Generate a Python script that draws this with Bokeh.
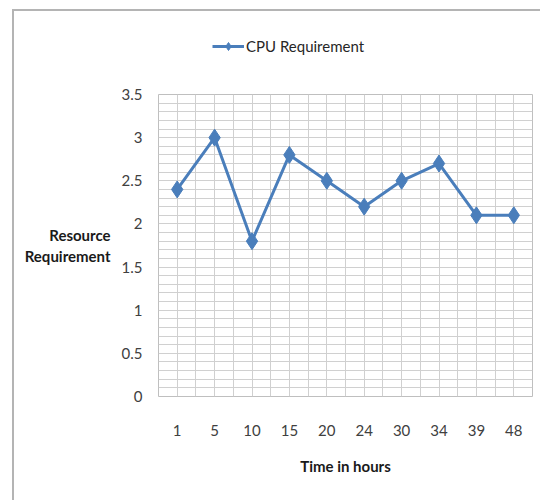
from bokeh.plotting import figure
from bokeh.layouts import column
from bokeh.models import FixedTicker, Legend, LegendItem, ColumnDataSource
from bokeh.embed import file_html
from bokeh.resources import INLINE

hours = ["1", "5", "10", "15", "20", "24", "30", "34", "39", "48"]
cpu = [2.4, 3.0, 1.8, 2.8, 2.5, 2.2, 2.5, 2.7, 2.1, 2.1]
y_ticks = [0, 0.5, 1, 1.5, 2, 2.5, 3, 3.5]
y_tick_labels = ["0", "0.5", "1", "1.5", "2", "2.5", "3", "3.5"]
series_name = "CPU Requirement"
x_title = "Time in hours"
y_title = "Resource\nRequirement"

FONT = "Lato"
BLUE = "#4a7ebb"
W = 526

n = len(hours)
xs = [i + 0.5 for i in range(n)]
src = ColumnDataSource(dict(x=xs, y=cpu))

# legend strip on top (its ranges keep the series out of view; only the legend shows)
lf = figure(width=W, height=60, output_backend="svg", toolbar_location=None,
            x_range=(0, n), y_range=(10, 11), x_axis_type=None, y_axis_type=None,
            min_border_left=0, min_border_right=0, min_border_top=0, min_border_bottom=0)
lf.outline_line_color = None
lf.grid.visible = False
l_line = lf.line("x", "y", source=src, line_color=BLUE, line_width=3)
l_mark = lf.scatter("x", "y", source=src, marker="diamond", size=17, fill_color=BLUE, line_color=BLUE)
legend = Legend(items=[LegendItem(label=series_name, renderers=[l_line, l_mark])],
                location=(54, 15), orientation="horizontal",
                label_text_font=FONT, label_text_font_size="15px", label_text_color="#262626",
                border_line_color=None, background_fill_alpha=0, glyph_width=32,
                label_standoff=2, padding=0, margin=0)
lf.add_layout(legend, "center")

# main chart
p = figure(width=W, height=429, output_backend="svg", toolbar_location=None,
           x_range=(0, n), y_range=(0, 3.5),
           min_border_left=144, min_border_right=8, min_border_top=23, min_border_bottom=104)
p.outline_line_color = "#bfbfbf"
p.outline_line_width = 1

p.xaxis.ticker = FixedTicker(ticks=xs)
p.xaxis.major_label_overrides = {x: h for x, h in zip(xs, hours)}
p.yaxis.ticker = FixedTicker(ticks=y_ticks)
p.yaxis.major_label_overrides = {t: l for t, l in zip(y_ticks, y_tick_labels)}
for ax in (p.xaxis[0], p.yaxis[0]):
    ax.axis_line_color = None
    ax.major_tick_line_color = None
    ax.minor_tick_line_color = None
    ax.major_label_text_font = FONT
    ax.major_label_text_font_size = "15px"
    ax.major_label_text_color = "#404040"
    ax.axis_label_text_font = FONT
    ax.axis_label_text_font_size = "15px"
    ax.axis_label_text_font_style = "bold"
    ax.axis_label_text_color = "#1a1a1a"
p.xaxis.major_label_standoff = 22
p.yaxis.major_label_standoff = 10
p.xaxis.axis_label = x_title
p.xaxis.axis_label_standoff = 18
p.yaxis.axis_label = y_title
p.yaxis.axis_label_standoff = 8
if hasattr(p.yaxis[0], "axis_label_orientation"):
    p.yaxis.axis_label_orientation = "horizontal"

p.xgrid.ticker = FixedTicker(ticks=[i * 0.5 for i in range(2 * n + 1)])
p.ygrid.ticker = FixedTicker(ticks=[round(i * 0.1, 1) for i in range(36)])
p.xgrid.grid_line_color = "#d0d0d0"
p.ygrid.grid_line_color = "#d0d0d0"

p.line("x", "y", source=src, line_color=BLUE, line_width=3)
p.scatter("x", "y", source=src, marker="diamond", size=17, fill_color=BLUE, line_color=BLUE)

layout = column(lf, p, spacing=0)
layout.styles = {"border-left": "2px solid #b4b4b4", "border-top": "2px solid #b4b4b4",
                 "margin-left": "12px", "margin-top": "9px"}

open("out.html", "w").write(file_html(layout, INLINE))
